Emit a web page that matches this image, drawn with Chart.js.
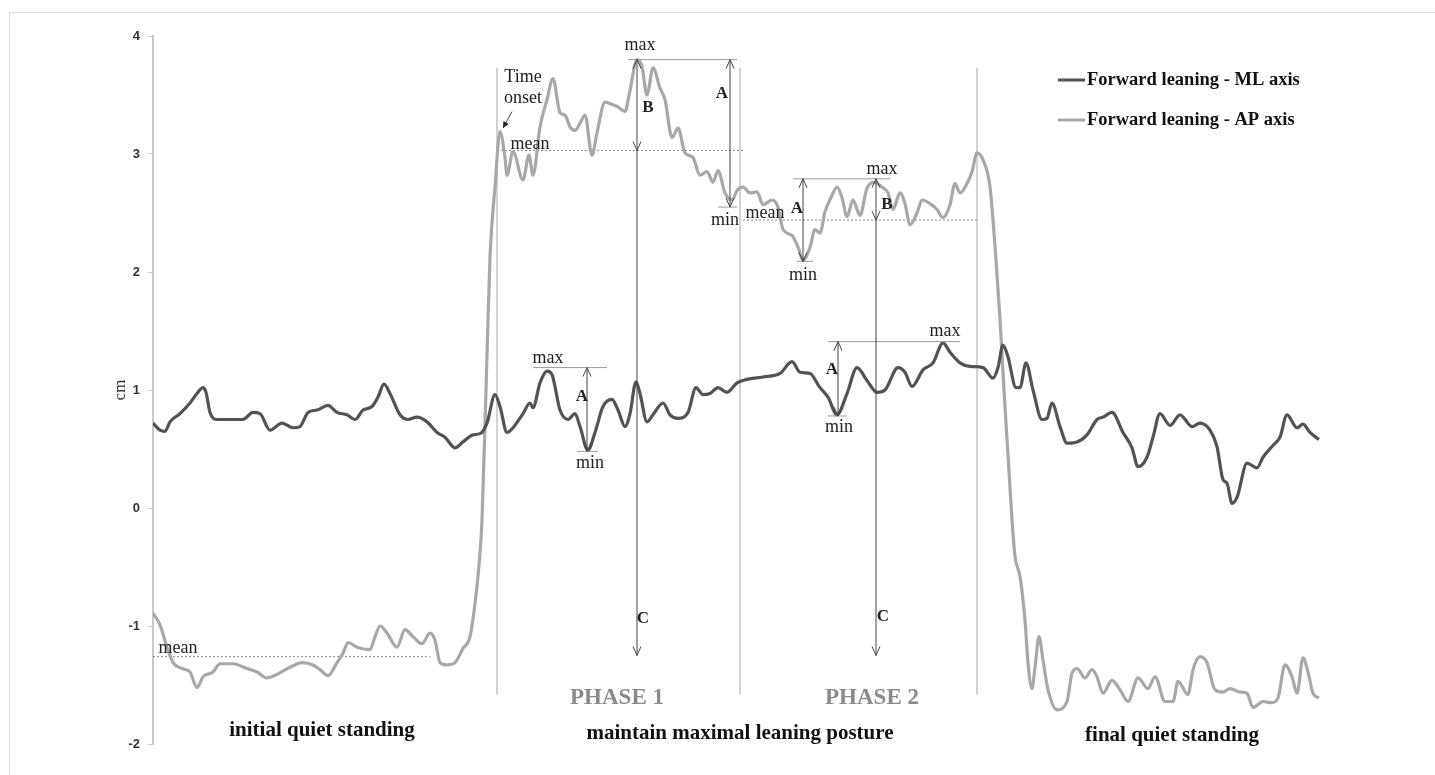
<!DOCTYPE html>
<html><head><meta charset="utf-8">
<script src="https://cdn.jsdelivr.net/npm/chart.js@4.4.1/dist/chart.umd.min.js"></script>
<style>
html,body{margin:0;padding:0;background:#fff;}
#wrap{position:relative;width:1435px;height:775px;overflow:hidden;background:#fff;}
#frame{position:absolute;left:9px;top:12px;width:1500px;height:800px;border-left:1px solid #dcdcdc;border-top:1px solid #dcdcdc;}
canvas{position:absolute;left:0;top:0;}
</style></head><body>
<div id="wrap"><div id="frame"></div><canvas id="c" width="1435" height="775" style="width:1435px;height:775px"></canvas></div>
<script>
// ---- Data (time in s, displacement in cm) ----
const mlTime = [0.0,0.7,1.2,1.7,2.7,3.7,4.4,5.0,5.3,5.7,6.4,7.7,9.0,10.0,10.7,11.7,12.9,14.0,14.7,15.5,16.4,17.5,18.4,19.4,20.2,21.0,21.9,22.5,23.1,23.7,24.7,25.5,26.4,27.4,28.4,29.2,30.2,31.0,32.0,32.7,33.4,34.2,34.7,35.4,36.0,37.0,37.7,38.0,38.7,39.4,39.9,40.7,41.5,42.2,42.7,43.5,44.2,45.0,45.9,46.5,47.2,47.7,48.3,48.7,49.4,50.0,51.0,51.7,52.5,53.5,54.3,55.0,55.7,56.5,57.4,58.4,59.4,61.0,62.7,63.9,64.7,65.7,66.7,67.5,68.4,69.4,70.4,71.4,72.4,73.2,74.5,75.2,75.9,77.0,78.0,79.0,79.7,80.7,81.7,83.0,84.0,84.5,85.0,85.5,86.3,86.7,87.3,88.0,88.9,89.4,89.9,90.7,91.4,92.4,93.4,94.4,95.0,95.9,97.0,97.9,98.5,99.4,100.0,100.7,101.7,102.7,103.9,104.7,105.7,106.4,107.0,107.4,107.9,108.4,109.4,110.4,111.0,112.0,112.7,113.4,114.4,115.0,115.7,116.6];
const mlValue = [0.72,0.66,0.65,0.73,0.80,0.89,0.97,1.02,0.98,0.81,0.75,0.75,0.75,0.81,0.80,0.66,0.72,0.68,0.69,0.81,0.83,0.87,0.81,0.79,0.75,0.83,0.86,0.94,1.05,0.97,0.79,0.75,0.77,0.73,0.64,0.60,0.51,0.56,0.62,0.63,0.72,0.96,0.86,0.64,0.68,0.80,0.89,0.85,1.06,1.16,1.13,0.83,0.75,0.80,0.69,0.49,0.64,0.86,0.92,0.83,0.69,0.80,1.07,0.97,0.73,0.79,0.89,0.79,0.76,0.81,1.02,0.96,0.97,1.02,0.98,1.06,1.09,1.11,1.14,1.24,1.15,1.14,1.02,0.94,0.79,0.97,1.19,1.08,0.98,1.00,1.19,1.15,1.03,1.17,1.23,1.40,1.32,1.23,1.20,1.19,1.10,1.19,1.38,1.28,1.02,1.02,1.23,1.00,0.75,0.76,0.89,0.69,0.55,0.56,0.62,0.75,0.77,0.81,0.64,0.51,0.35,0.43,0.60,0.80,0.70,0.79,0.69,0.72,0.66,0.52,0.24,0.21,0.04,0.09,0.38,0.34,0.43,0.53,0.60,0.79,0.68,0.71,0.64,0.58];

const apTime = [0.0,0.7,1.4,2.0,2.9,3.7,4.4,5.0,6.0,6.7,8.0,9.4,10.4,11.4,12.4,13.7,14.9,16.0,16.7,17.5,18.4,19.0,19.5,20.4,21.7,22.2,22.7,23.4,24.4,25.2,26.0,26.9,27.7,28.2,28.7,29.4,30.2,31.0,31.7,32.2,32.7,32.9,33.3,33.7,34.2,34.7,35.2,35.4,36.0,37.0,37.6,38.0,38.7,39.4,40.0,40.7,41.2,41.7,42.2,42.7,43.2,43.9,44.4,45.2,45.9,46.5,47.2,47.7,48.4,48.9,49.4,50.0,50.7,51.2,51.9,52.5,53.2,54.0,54.7,55.4,56.0,56.5,57.2,57.9,58.4,59.0,59.7,60.4,61.0,61.9,62.5,63.0,63.9,64.5,65.0,65.7,66.2,66.7,67.2,67.9,68.4,68.9,69.4,70.0,70.7,71.4,72.2,72.9,73.5,74.0,74.7,75.2,75.7,76.4,76.9,77.7,78.4,79.0,79.7,80.2,80.7,81.4,81.9,82.4,83.0,83.7,84.3,84.7,85.1,85.5,85.9,86.2,86.7,87.2,87.5,87.9,88.2,88.6,89.0,89.5,90.4,91.4,91.9,92.4,93.2,93.9,94.4,95.0,95.9,96.7,97.5,98.5,99.5,100.2,101.2,102.0,102.5,103.5,104.0,104.7,105.4,106.2,107.0,107.7,108.7,109.4,110.0,111.0,111.9,112.5,113.2,113.9,114.4,115.0,115.5,116.0,116.6];
const apValue = [-0.89,-0.99,-1.18,-1.31,-1.36,-1.39,-1.52,-1.43,-1.39,-1.32,-1.32,-1.36,-1.39,-1.44,-1.41,-1.35,-1.31,-1.33,-1.37,-1.42,-1.31,-1.23,-1.14,-1.18,-1.20,-1.09,-1.00,-1.06,-1.18,-1.03,-1.09,-1.15,-1.06,-1.12,-1.31,-1.33,-1.31,-1.19,-1.09,-0.81,-0.38,-0.10,1.00,2.13,2.72,3.19,2.97,2.82,3.02,2.78,2.99,2.82,3.23,3.46,3.64,3.35,3.33,3.23,3.20,3.26,3.33,2.99,3.18,3.44,3.42,3.40,3.36,3.54,3.80,3.74,3.50,3.73,3.56,3.46,3.14,3.22,3.01,2.97,2.82,2.85,2.76,2.86,2.67,2.61,2.69,2.72,2.67,2.68,2.57,2.61,2.55,2.36,2.31,2.21,2.10,2.21,2.36,2.33,2.51,2.65,2.72,2.63,2.47,2.61,2.48,2.71,2.76,2.72,2.67,2.53,2.67,2.58,2.40,2.50,2.61,2.58,2.53,2.46,2.57,2.75,2.67,2.75,2.85,3.01,2.95,2.72,2.10,1.60,1.00,0.45,-0.10,-0.41,-0.58,-0.95,-1.31,-1.53,-1.35,-1.09,-1.29,-1.54,-1.71,-1.64,-1.40,-1.36,-1.44,-1.37,-1.43,-1.57,-1.46,-1.54,-1.64,-1.44,-1.53,-1.43,-1.64,-1.64,-1.47,-1.58,-1.37,-1.26,-1.31,-1.54,-1.56,-1.53,-1.56,-1.57,-1.69,-1.64,-1.65,-1.61,-1.33,-1.43,-1.57,-1.27,-1.39,-1.57,-1.61];

const seriesNames = ['Forward leaning - ML axis', 'Forward leaning - AP axis'];
const yTicks = [-2, -1, 0, 1, 2, 3, 4];
const xRange = [0, 116.7];

// ---- Annotations (data units) ----
const phaseBoundaries = [34.4, 58.7, 82.4];
const boundarySpan = [-1.58, 3.73];
const meanLines = [[0, 27.7, -1.26], [34.4, 59.0, 3.03], [59.0, 82.4, 2.44]];       // from, to, value
const refLines = [[47.5, 58.4, 3.80], [56.5, 58.4, 2.55], [64.0, 73.7, 2.79], [64.4, 66.0, 2.09],
                  [38.0, 45.4, 1.19], [42.4, 44.5, 0.48], [67.5, 80.7, 1.41], [67.5, 69.4, 0.78]];
const arrows = [ // x, from, to, headAtFrom, headAtTo
  [48.4, 3.80, -1.25, true, true], [48.4, 3.03, 3.03, false, true],
  [57.7, 3.80, 2.55, true, true],
  [72.3, 2.79, -1.25, true, true], [72.3, 2.44, 2.44, false, true],
  [65.0, 2.79, 2.09, true, true],
  [43.4, 1.19, 0.48, true, true],
  [68.5, 1.41, 0.78, true, true]
];
const onsetArrow = [35.9, 3.36, 35.0, 3.22];
const smallLabels = [['max',48.7,3.92],['max',72.9,2.87],['max',39.5,1.27],['max',79.2,1.50],
  ['min',57.2,2.44],['min',65.0,1.97],['min',43.7,0.38],['min',68.6,0.68],
  ['mean',37.7,3.08],['mean',61.2,2.50],['mean',2.5,-1.19],['Time',37.0,3.65],['onset',37.0,3.47]];
const letterLabels = [['A',56.9,3.51],['B',49.5,3.39],['C',49.0,-0.94],['A',64.4,2.54],['B',73.4,2.57],
  ['C',73.0,-0.92],['A',42.9,0.94],['A',67.9,1.17]];
const phaseLabels = [['PHASE 1',46.4,-1.61],['PHASE 2',71.9,-1.61]];
const sectionLabels = [['initial quiet standing',16.9,-1.89],['maintain maximal leaning posture',58.7,-1.91],['final quiet standing',101.9,-1.93]];

const ML_COLOR = '#535353', AP_COLOR = '#a8a8a8';
const SERIF = '"Liberation Serif", "Times New Roman", serif';

function pts(t, v) { return t.map((x, i) => ({x: x, y: v[i]})); }

function arrowHead(ctx, x, y, dir) { // dir: -1 up, +1 down
  ctx.beginPath();
  ctx.moveTo(x - 4, y - dir * 9);
  ctx.lineTo(x, y);
  ctx.lineTo(x + 4, y - dir * 9);
  ctx.stroke();
}

const backPlugin = {
  id: 'backAnn',
  beforeDatasetsDraw(chart) {
    const {ctx, scales: {x, y}} = chart;
    ctx.save();
    ctx.strokeStyle = '#c4c4c4'; ctx.lineWidth = 1.5;
    phaseBoundaries.forEach(t => {
      ctx.beginPath();
      ctx.moveTo(x.getPixelForValue(t), y.getPixelForValue(boundarySpan[1]));
      ctx.lineTo(x.getPixelForValue(t), y.getPixelForValue(boundarySpan[0]));
      ctx.stroke();
    });
    ctx.strokeStyle = '#8a8a8a'; ctx.lineWidth = 1; ctx.setLineDash([2, 2]);
    meanLines.forEach(([a, b, v]) => {
      ctx.beginPath();
      ctx.moveTo(x.getPixelForValue(a), y.getPixelForValue(v));
      ctx.lineTo(x.getPixelForValue(b), y.getPixelForValue(v));
      ctx.stroke();
    });
    ctx.restore();
  }
};

const frontPlugin = {
  id: 'frontAnn',
  afterDatasetsDraw(chart) {
    const {ctx, chartArea, scales: {x, y}} = chart;
    ctx.save();
    ctx.strokeStyle = '#9a9a9a'; ctx.lineWidth = 1;
    refLines.forEach(([a, b, v]) => {
      ctx.beginPath();
      ctx.moveTo(x.getPixelForValue(a), y.getPixelForValue(v));
      ctx.lineTo(x.getPixelForValue(b), y.getPixelForValue(v));
      ctx.stroke();
    });
    ctx.strokeStyle = '#444'; ctx.lineWidth = 1;
    arrows.forEach(([t, a, b, ha, hb]) => {
      const px = x.getPixelForValue(t), pa = y.getPixelForValue(a), pb = y.getPixelForValue(b);
      if (pa !== pb) { ctx.beginPath(); ctx.moveTo(px, pa); ctx.lineTo(px, pb); ctx.stroke(); }
      const dir = pb > pa ? 1 : -1;
      if (ha && pa !== pb) arrowHead(ctx, px, pa, -dir);
      if (hb) arrowHead(ctx, px, pb, pa === pb ? 1 : dir);
    });
    // onset pointer
    const ox1 = x.getPixelForValue(onsetArrow[0]), oy1 = y.getPixelForValue(onsetArrow[1]);
    const ox2 = x.getPixelForValue(onsetArrow[2]), oy2 = y.getPixelForValue(onsetArrow[3]);
    ctx.beginPath(); ctx.moveTo(ox1, oy1); ctx.lineTo(ox2, oy2); ctx.stroke();
    const ang = Math.atan2(oy2 - oy1, ox2 - ox1);
    ctx.fillStyle = '#222';
    ctx.beginPath();
    ctx.moveTo(ox2, oy2);
    ctx.lineTo(ox2 - 7 * Math.cos(ang - 0.45), oy2 - 7 * Math.sin(ang - 0.45));
    ctx.lineTo(ox2 - 7 * Math.cos(ang + 0.45), oy2 - 7 * Math.sin(ang + 0.45));
    ctx.closePath(); ctx.fill();

    ctx.textAlign = 'center'; ctx.textBaseline = 'middle';
    ctx.fillStyle = '#222'; ctx.font = '18px ' + SERIF;
    smallLabels.forEach(([s, t, v]) => ctx.fillText(s, x.getPixelForValue(t), y.getPixelForValue(v)));
    ctx.font = 'bold 17px ' + SERIF;
    letterLabels.forEach(([s, t, v]) => ctx.fillText(s, x.getPixelForValue(t), y.getPixelForValue(v)));
    ctx.fillStyle = '#8a8a8a'; ctx.font = 'bold 23px ' + SERIF;
    phaseLabels.forEach(([s, t, v]) => ctx.fillText(s, x.getPixelForValue(t), y.getPixelForValue(v)));
    ctx.fillStyle = '#111'; ctx.font = 'bold 21px ' + SERIF;
    sectionLabels.forEach(([s, t, v]) => ctx.fillText(s, x.getPixelForValue(t), y.getPixelForValue(v)));

    // legend
    const lx = chartArea.right - 262, ly = chartArea.top + 44;
    const cols = [ML_COLOR, AP_COLOR];
    ctx.textAlign = 'left'; ctx.font = 'bold 18.5px ' + SERIF; ctx.fillStyle = '#111';
    seriesNames.forEach((n, i) => {
      const yy = ly + i * 40;
      ctx.strokeStyle = cols[i]; ctx.lineWidth = 3;
      ctx.beginPath(); ctx.moveTo(lx, yy); ctx.lineTo(lx + 27, yy); ctx.stroke();
      ctx.fillText(n, lx + 29, yy);
    });
    ctx.restore();
  }
};

new Chart(document.getElementById('c'), {
  type: 'line',
  data: {
    datasets: [
      {label: seriesNames[0], data: pts(mlTime, mlValue), borderColor: ML_COLOR, borderWidth: 3.2, pointRadius: 0, cubicInterpolationMode: 'monotone', fill: false},
      {label: seriesNames[1], data: pts(apTime, apValue), borderColor: AP_COLOR, borderWidth: 3.2, pointRadius: 0, cubicInterpolationMode: 'monotone', fill: false}
    ]
  },
  options: {
    responsive: false,
    animation: false,
    devicePixelRatio: 1,
    layout: {padding: {left: 0, top: 36, right: 115, bottom: 31}},
    plugins: {legend: {display: false}, tooltip: {enabled: false}},
    scales: {
      x: {type: 'linear', display: false, min: xRange[0], max: xRange[1]},
      y: {
        type: 'linear', min: yTicks[0], max: yTicks[yTicks.length - 1],
        afterFit: s => { s.width = 153; },
        afterBuildTicks: s => { s.ticks = yTicks.map(v => ({value: v})); },
        ticks: {color: '#333', padding: 8, font: {family: '"Liberation Sans", Arial, sans-serif', weight: 'bold', size: 13}},
        grid: {drawOnChartArea: false, drawTicks: true, tickLength: 5, color: '#c8c8c8', lineWidth: 1},
        border: {display: true, color: '#c8c8c8', width: 2},
        title: {display: true, text: 'cm', color: '#333', font: {family: SERIF, size: 17}, padding: {top: 110, bottom: 0}}
      }
    }
  },
  plugins: [backPlugin, frontPlugin]
});
</script></body></html>
